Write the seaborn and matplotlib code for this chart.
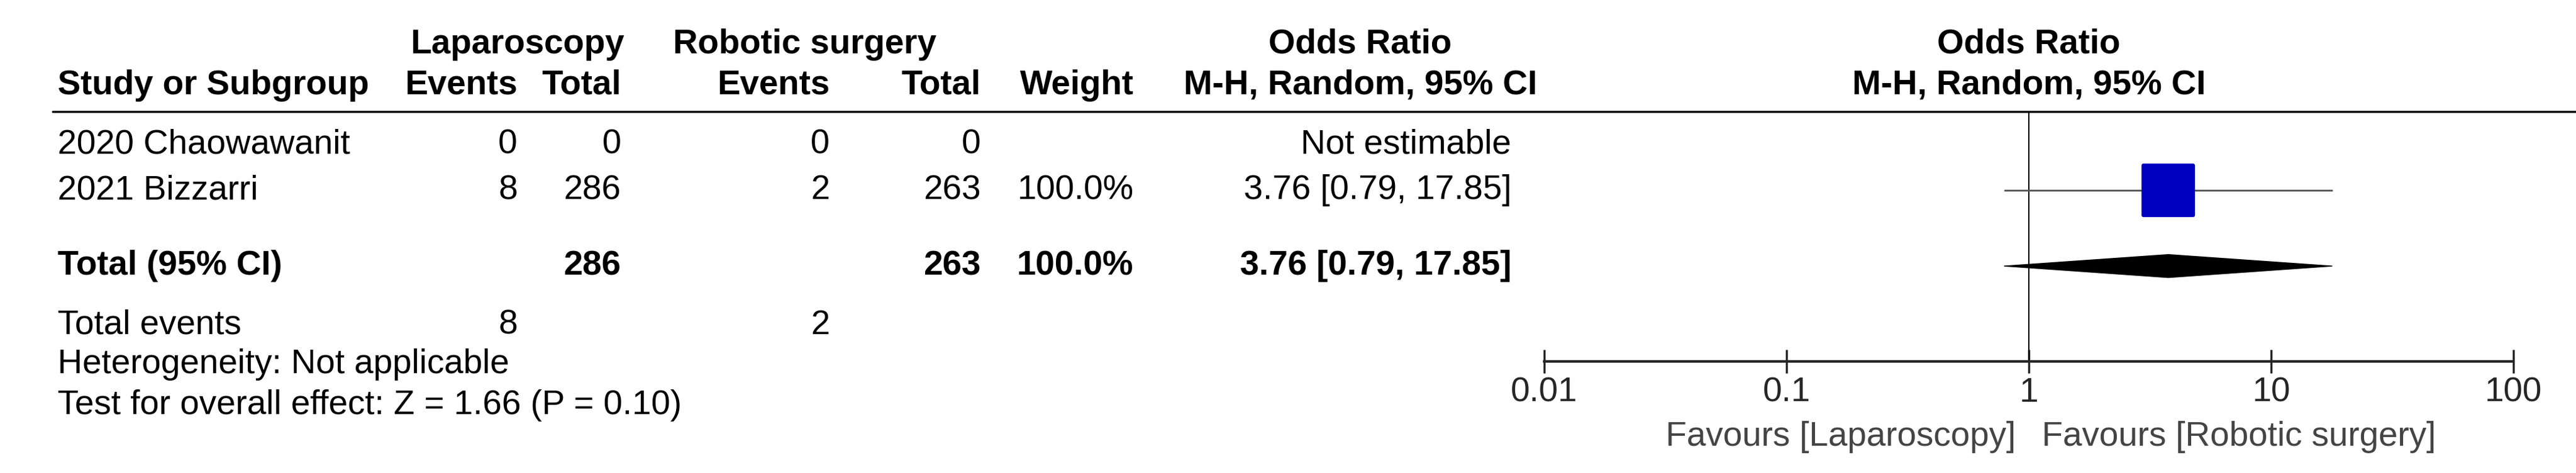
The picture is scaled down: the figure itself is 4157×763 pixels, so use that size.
import numpy as np
import pandas as pd
import seaborn as sns
import matplotlib.pyplot as plt

studies = ["2020 Chaowawanit", "2021 Bizzarri"]
lap_events = [0, 8]
lap_total = [0, 286]
rob_events = [0, 2]
rob_total = [0, 263]
weights = ["", "100.0%"]
or_text = ["Not estimable", "3.76 [0.79, 17.85]"]
or_val = [np.nan, 3.76]
ci_lo = [np.nan, 0.79]
ci_hi = [np.nan, 17.85]
total_or, total_lo, total_hi = 3.76, 0.79, 17.85
ticks = [0.01, 0.1, 1, 10, 100]
tick_labels = ["0.01", "0.1", "1", "10", "100"]

sns.set_style("white")
plt.rcParams['font.family'] = ['Liberation Sans', 'DejaVu Sans']
fs = 40

fig = plt.figure(figsize=(41.57, 7.63), dpi=100)
# text layer in reference pixel units (display scale)
tx = fig.add_axes([0, 0, 1, 1])
tx.set_xlim(0, 1568)
tx.set_ylim(288, 0)
tx.axis("off")

def t(x, y, s, ha="left", bold=False, color="black"):
    tx.text(x, y, s, ha=ha, va="center", fontsize=fs, color=color,
            fontweight="bold" if bold else "normal")

t(315, 27, "Laparoscopy", "center", True)
t(490, 27, "Robotic surgery", "center", True)
t(828, 27, "Odds Ratio", "center", True)
t(1235, 27, "Odds Ratio", "center", True)
t(35, 52, "Study or Subgroup", bold=True)
t(315, 52, "Events", "right", True)
t(378, 52, "Total", "right", True)
t(505, 52, "Events", "right", True)
t(597, 52, "Total", "right", True)
t(690, 52, "Weight", "right", True)
t(828, 52, "M-H, Random, 95% CI", "center", True)
t(1235, 52, "M-H, Random, 95% CI", "center", True)
tx.plot([32, 1568], [68, 68], color="black", lw=2.5)

rows_y = [88, 116]
for i, y in enumerate(rows_y):
    t(35, y, studies[i])
    t(315, y, str(lap_events[i]), "right")
    t(378, y, str(lap_total[i]), "right")
    t(505, y, str(rob_events[i]), "right")
    t(597, y, str(rob_total[i]), "right")
    t(690, y, weights[i], "right")
    t(920, y, or_text[i], "right")

t(35, 162, "Total (95% CI)", bold=True)
t(378, 162, str(sum(lap_total)), "right", True)
t(597, 162, str(sum(rob_total)), "right", True)
t(690, 162, "100.0%", "right", True)
t(920, 162, "3.76 [0.79, 17.85]", "right", True)
t(35, 198, "Total events")
t(315, 198, str(sum(lap_events)), "right")
t(505, 198, str(sum(rob_events)), "right")
t(35, 222, "Heterogeneity: Not applicable")
t(35, 247, "Test for overall effect: Z = 1.66 (P = 0.10)")
t(1227, 266, "Favours [Laparoscopy]", "right", color="#444444")
t(1243, 266, "Favours [Robotic surgery]", "left", color="#444444")

# forest axes
x0, x1 = 940 / 1568, 1530 / 1568
y_top, y_bot = 68, 220
ax = fig.add_axes([x0, 1 - y_bot / 288, x1 - x0, (y_bot - y_top) / 288])
ax.set_xscale("log")
ax.set_xlim(0.01, 100)
ax.set_ylim(y_bot, y_top)
ax.patch.set_alpha(0)
for s in ["top", "left", "right"]:
    ax.spines[s].set_visible(False)
ax.spines["bottom"].set_linewidth(3)
ax.set_xticks(ticks)
ax.set_xticklabels(tick_labels, fontsize=fs)
ax.minorticks_off()
ax.tick_params(axis="x", bottom=True, direction="inout", length=28, width=2.5, pad=4)
ax.set_yticks([])
ax.axvline(1, color="black", lw=1.5)

df = pd.DataFrame({"or": or_val, "lo": ci_lo, "hi": ci_hi, "y": rows_y}).dropna()
ax.hlines(df["y"], df["lo"], df["hi"], color="#555555", lw=2)
sns.scatterplot(data=df, x="or", y="y", marker="s", s=3300, color="#0000c0",
                edgecolor="#0000c0", ax=ax, legend=False, zorder=3)
ax.fill([total_lo, total_or, total_hi, total_or],
        [162, 155, 162, 169], color="black")
ax.set_xlabel("")
ax.set_ylabel("")

fig.savefig("out.png", dpi=100)
